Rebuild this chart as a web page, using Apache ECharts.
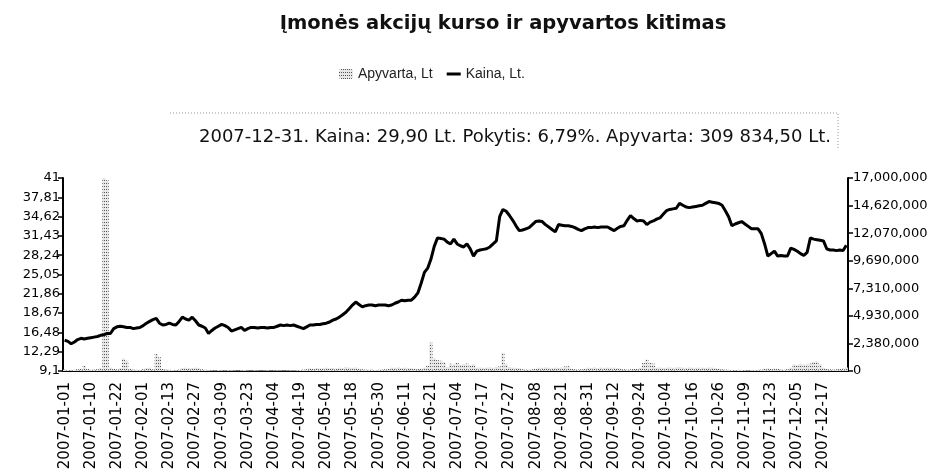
<!DOCTYPE html>
<html>
<head>
<meta charset="utf-8">
<script src="https://cdn.jsdelivr.net/npm/echarts@6/dist/echarts.min.js"></script>
<style>
  html, body { margin: 0; padding: 0; background: #fff; }
  #chart { width: 949px; height: 475px; }
</style>
</head>
<body>
<div id="chart"></div>
<script>
// x axis tick dates (every 8th trading day is labelled)
var tickDates = ['2007-01-01','2007-01-10','2007-01-22','2007-02-01','2007-02-13','2007-02-27',
  '2007-03-09','2007-03-23','2007-04-04','2007-04-19','2007-05-04','2007-05-18','2007-05-30',
  '2007-06-11','2007-06-21','2007-07-04','2007-07-17','2007-07-27','2007-08-08','2007-08-21',
  '2007-08-31','2007-09-12','2007-09-24','2007-10-04','2007-10-16','2007-10-26','2007-11-09',
  '2007-11-23','2007-12-05','2007-12-17'];
var lastDays = ['2007-12-18','2007-12-19','2007-12-20','2007-12-21','2007-12-27','2007-12-28','2007-12-31'];

var leftTicks = ['9,1','12,29','16,48','18,67','21,86','25,05','28,24','31,43','34,62','37,81','41'];
var rightTicks = ['0','2,380,000','4,930,000','7,310,000','9,690,000','12,070,000','14,620,000','17,000,000'];

// Kaina, Lt.
var price = [
  14.2, 14.0, 13.6, 13.9, 14.3, 14.5, 14.4, 14.5, 14.6, 14.7,
  14.8, 15.0, 15.1, 15.3, 15.3, 16.1, 16.4, 16.5, 16.4, 16.3,
  16.3, 16.1, 16.2, 16.3, 16.6, 17.0, 17.3, 17.6, 17.8, 17.0,
  16.7, 16.8, 17.0, 16.8, 16.7, 17.3, 18.0, 17.7, 17.5, 18.0,
  17.4, 16.7, 16.5, 16.2, 15.3, 15.8, 16.2, 16.5, 16.8, 16.6,
  16.3, 15.7, 15.9, 16.1, 16.3, 15.8, 16.1, 16.3, 16.3, 16.2,
  16.3, 16.3, 16.2, 16.3, 16.3, 16.5, 16.7, 16.6, 16.7, 16.6,
  16.7, 16.5, 16.3, 16.1, 16.4, 16.7, 16.7, 16.8, 16.8, 16.9,
  17.0, 17.2, 17.5, 17.7, 18.0, 18.4, 18.8, 19.4, 20.0, 20.5,
  20.1, 19.7, 19.9, 20.0, 20.0, 19.9, 20.0, 20.0, 20.0, 19.9,
  20.0, 20.3, 20.5, 20.8, 20.7, 20.8, 20.8, 21.3, 22.0, 23.6,
  25.4, 26.1, 27.6, 29.7, 31.1, 31.0, 30.9, 30.4, 30.1, 30.9,
  30.1, 29.8, 29.6, 30.1, 29.3, 28.1, 28.9, 29.1, 29.2, 29.3,
  29.6, 30.1, 30.6, 34.6, 35.8, 35.5, 34.8, 34.0, 33.1, 32.3,
  32.4, 32.6, 32.8, 33.3, 33.8, 33.9, 33.8, 33.3, 32.9, 32.5,
  32.1, 33.3, 33.2, 33.1, 33.1, 33.0, 32.8, 32.5, 32.3, 32.6,
  32.8, 32.8, 32.9, 32.8, 32.9, 32.9, 32.9, 32.6, 32.3, 32.7,
  33.0, 33.1, 34.0, 34.8, 34.3, 33.9, 34.0, 33.9, 33.3, 33.7,
  33.9, 34.2, 34.4, 35.0, 35.6, 35.8, 35.9, 36.0, 36.8, 36.5,
  36.2, 36.1, 36.2, 36.3, 36.4, 36.5, 36.8, 37.1, 37.0, 36.9,
  36.8, 36.5, 35.6, 34.6, 33.1, 33.4, 33.6, 33.8, 33.4, 33.0,
  32.6, 32.6, 32.6, 31.8, 30.1, 28.1, 28.5, 28.9, 28.1, 28.2,
  28.1, 28.1, 29.4, 29.2, 28.9, 28.5, 28.2, 28.7, 31.1, 30.9,
  30.8, 30.7, 30.6, 29.3, 29.1, 29.1, 29.0, 29.1, 29.0, 29.9
];

// Apyvarta, Lt
var turnover = [
  120000, 90000, 80000, 100000, 150000, 200000, 450000, 180000, 100000, 120000,
  150000, 250000, 17000000, 16800000, 300000, 200000, 150000, 250000, 1100000, 900000,
  200000, 120000, 100000, 90000, 150000, 250000, 300000, 150000, 1500000, 1200000,
  200000, 120000, 100000, 90000, 80000, 120000, 280000, 300000, 250000, 260000,
  300000, 280000, 150000, 100000, 80000, 70000, 60000, 80000, 70000, 60000,
  80000, 70000, 60000, 50000, 70000, 80000, 60000, 50000, 70000, 60000,
  50000, 60000, 70000, 50000, 60000, 70000, 60000, 50000, 60000, 70000,
  60000, 80000, 90000, 120000, 150000, 250000, 200000, 260000, 230000, 250000,
  300000, 250000, 280000, 220000, 300000, 260000, 350000, 300000, 280000, 320000,
  200000, 150000, 120000, 100000, 110000, 90000, 100000, 120000, 150000, 180000,
  300000, 280000, 320000, 260000, 300000, 280000, 250000, 200000, 180000, 220000,
  300000, 450000, 2500000, 1100000, 950000, 900000, 800000, 350000, 650000, 600000,
  700000, 550000, 600000, 650000, 500000, 600000, 300000, 320000, 280000, 300000,
  320000, 290000, 350000, 400000, 1600000, 600000, 350000, 300000, 280000, 250000,
  150000, 120000, 100000, 150000, 200000, 300000, 280000, 320000, 300000, 260000,
  300000, 280000, 320000, 400000, 420000, 200000, 150000, 120000, 150000, 200000,
  300000, 280000, 320000, 260000, 300000, 280000, 310000, 290000, 300000, 260000,
  200000, 150000, 120000, 150000, 180000, 200000, 300000, 700000, 1000000, 750000,
  650000, 300000, 320000, 280000, 300000, 330000, 290000, 310000, 350000, 300000,
  280000, 320000, 300000, 290000, 310000, 300000, 280000, 320000, 300000, 250000,
  200000, 150000, 120000, 100000, 90000, 80000, 100000, 90000, 80000, 70000,
  80000, 90000, 100000, 120000, 200000, 220000, 180000, 200000, 210000, 120000,
  100000, 150000, 300000, 600000, 550000, 620000, 580000, 600000, 650000, 800000,
  850000, 600000, 300000, 200000, 150000, 120000, 150000, 180000, 250000, 309834.5
];

// trading day names: each labelled date followed by the next weekdays
function nextWeekdays(d, n) {
  var out = [];
  var t = new Date(d + 'T00:00:00Z');
  while (out.length < n) {
    t.setUTCDate(t.getUTCDate() + 1);
    var wd = t.getUTCDay();
    if (wd !== 0 && wd !== 6) out.push(t.toISOString().slice(0, 10));
  }
  return out;
}
var days = [];
tickDates.forEach(function (d, i) {
  days.push(d);
  var rest = i === tickDates.length - 1 ? lastDays : nextWeekdays(d, 7);
  days = days.concat(rest);
});

var font = 'DejaVu Sans';

var option = {
  animation: false,
  backgroundColor: '#fff',
  title: [{
    text: 'Įmonės akcijų kurso ir apyvartos kitimas',
    left: 498,
    textAlign: 'center',
    top: 9,
    textStyle: { fontFamily: font, fontSize: 19.5, fontWeight: 'bold', color: '#111' }
  }, {
    text: '2007-12-31. Kaina: 29,90 Lt. Pokytis: 6,79%. Apyvarta: 309 834,50 Lt.',
    left: 510,
    textAlign: 'center',
    top: 123,
    textStyle: { fontFamily: font, fontSize: 18, fontWeight: 'normal', color: '#111' }
  }],
  legend: {
    left: 334,
    top: 62,
    itemGap: 14,
    itemWidth: 14,
    itemHeight: 10,
    textStyle: { fontFamily: 'Liberation Sans', fontSize: 14, color: '#222' },
    data: [
      { name: 'Apyvarta, Lt' },
      { name: 'Kaina, Lt.', icon: 'path://M0,0 L14,0 L14,3 L0,3 Z' }
    ]
  },
  graphic: [{
    type: 'polyline',
    shape: { points: [[170, 113], [838, 113], [838, 150]] },
    style: { stroke: '#999', lineWidth: 1, lineDash: [1, 2], fill: null }
  }],
  grid: { left: 63, right: 101, top: 178, bottom: 104 },
  xAxis: {
    type: 'category',
    data: days,
    boundaryGap: true,
    axisLine: { lineStyle: { color: '#000', width: 2 } },
    axisTick: { interval: 7, length: 8, lineStyle: { color: '#000', width: 2 } },
    axisLabel: {
      interval: 7, rotate: 90, margin: 11,
      fontFamily: 'DejaVu Sans', fontSize: 15, color: '#000'
    }
  },
  yAxis: [{
    type: 'value',
    min: 9.1,
    max: 41,
    interval: 3.19,
    splitLine: { show: false },
    axisLine: { show: true, lineStyle: { color: '#000', width: 2 } },
    axisTick: { show: true, length: 5, lineStyle: { color: '#000', width: 1.5 } },
    axisLabel: {
      fontFamily: 'DejaVu Sans', fontSize: 13, color: '#000', margin: 3,
      formatter: function (v, i) { return leftTicks[i]; }
    }
  }, {
    type: 'value',
    min: 0,
    max: 17000004,
    interval: 2428572,
    splitLine: { show: false },
    axisLine: { show: true, lineStyle: { color: '#000', width: 2 } },
    axisTick: { show: true, length: 5, lineStyle: { color: '#000', width: 1.5 } },
    axisLabel: {
      fontFamily: 'DejaVu Sans', fontSize: 13, color: '#000', margin: 5,
      formatter: function (v, i) { return rightTicks[i]; }
    }
  }],
  series: [{
    name: 'Apyvarta, Lt',
    type: 'bar',
    yAxisIndex: 1,
    barCategoryGap: '5%',
    data: turnover,
    itemStyle: {
      color: '#e6e6e6',
      decal: {
        symbol: 'rect', symbolSize: 1, color: '#555',
        dashArrayX: [1, 1], dashArrayY: [1, 2], rotation: 0
      }
    }
  }, {
    name: 'Kaina, Lt.',
    type: 'line',
    yAxisIndex: 0,
    data: price,
    symbol: 'none',
    lineStyle: { color: '#000', width: 3 },
    itemStyle: { color: '#000' }
  }]
};

var myChart = echarts.init(document.getElementById('chart'));
myChart.setOption(option);
</script>
</body>
</html>
